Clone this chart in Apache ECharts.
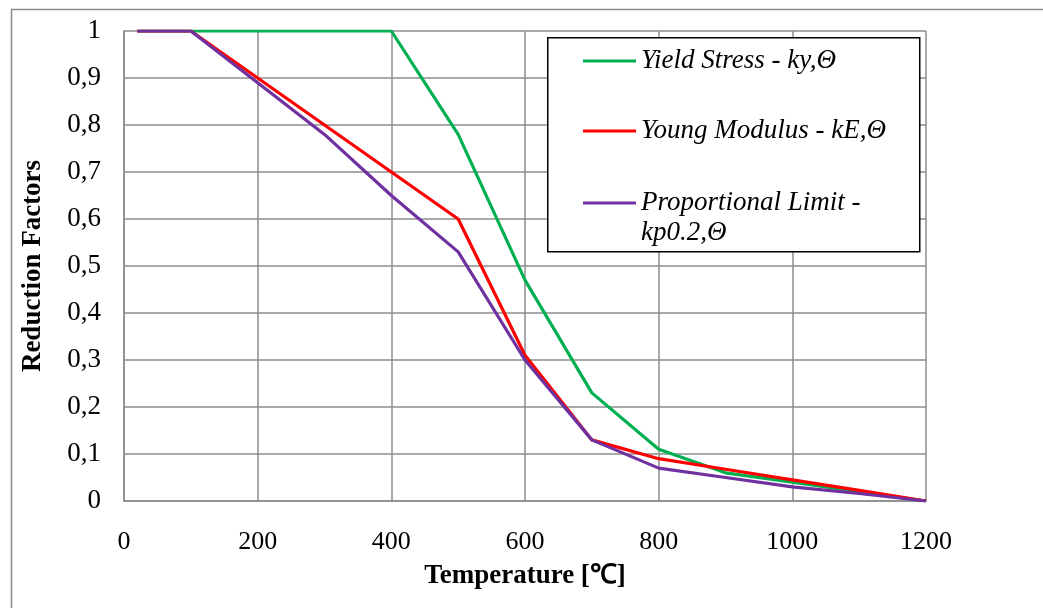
<!DOCTYPE html>
<html>
<head>
<meta charset="utf-8">
<script src="https://cdn.jsdelivr.net/npm/echarts@6/dist/echarts.min.js"></script>
<style>
html,body{margin:0;padding:0;background:#fff;}
#chart{width:1043px;height:608px;}
</style>
</head>
<body>
<div id="chart"></div>
<script>
// Data
const temperatures = [20, 100, 200, 300, 400, 500, 600, 700, 800, 900, 1000, 1100, 1200];
const yieldStress = [1, 1, 1, 1, 1, 0.78, 0.47, 0.23, 0.11, 0.06, 0.04, 0.02, 0];
const youngModulus = [1, 1, 0.9, 0.8, 0.7, 0.6, 0.31, 0.13, 0.09, 0.0675, 0.045, 0.0225, 0];
const proportionalLimit = [1, 1, 0.89, 0.78, 0.65, 0.53, 0.30, 0.13, 0.07, 0.05, 0.03, 0.016, 0];
const seriesNames = ['Yield Stress - ky,Θ', 'Young Modulus - kE,Θ', 'Proportional Limit -\nkp0.2,Θ'];
const seriesColors = ['#00B050', '#FF0000', '#7030A0'];
const xAxisTitle = 'Temperature [℃]';
const yAxisTitle = 'Reduction Factors';

const pairs = (ys) => temperatures.map((t, i) => [t, ys[i]]);
const serif = '"Liberation Serif", "Times New Roman", serif';

const chart = echarts.init(document.getElementById('chart'), null, {renderer: 'canvas'});
const mkSeries = (name, data, color) => ({
  name: name, type: 'line', data: pairs(data), showSymbol: false, symbol: 'none',
  lineStyle: {color: color, width: 3.2}, itemStyle: {color: color}, z: 2
});
const legendText = {fontFamily: serif, fontStyle: 'italic', fontSize: 27, color: '#000', lineHeight: 30};

chart.setOption({
  animation: false,
  backgroundColor: '#fff',
  grid: {left: 124, right: 117, top: 31, bottom: 107, containLabel: false},
  xAxis: {
    type: 'value', min: 0, max: 1200, interval: 200,
    name: xAxisTitle, nameLocation: 'middle', nameGap: 62,
    nameTextStyle: {fontFamily: serif, fontWeight: 'bold', fontSize: 27, color: '#000'},
    axisLine: {show: true, lineStyle: {color: '#8c8c8c', width: 1.5}},
    axisTick: {show: false},
    axisLabel: {fontFamily: serif, fontSize: 26, color: '#000', margin: 28,
      formatter: v => String(v)},
    splitLine: {show: true, lineStyle: {color: '#8c8c8c', width: 1.5}}
  },
  yAxis: {
    type: 'value', min: 0, max: 1, interval: 0.1,
    name: yAxisTitle, nameLocation: 'middle', nameGap: 77, nameRotate: 90,
    nameTextStyle: {fontFamily: serif, fontWeight: 'bold', fontSize: 27, color: '#000'},
    axisLine: {show: true, lineStyle: {color: '#8c8c8c', width: 1.5}},
    axisTick: {show: false},
    axisLabel: {fontFamily: serif, fontSize: 27, color: '#000', margin: 23,
      formatter: v => (Math.round(v * 10) / 10).toString().replace('.', ',')},
    splitLine: {show: true, lineStyle: {color: '#8c8c8c', width: 1.5}}
  },
  legend: [
    {
      data: [seriesNames[0], seriesNames[1]], orient: 'vertical', left: 583, top: 46, padding: 0,
      icon: 'rect', itemWidth: 53, itemHeight: 3, itemGap: 40, textStyle: legendText, selectedMode: false
    },
    {
      data: [seriesNames[2]], orient: 'vertical', left: 583, top: 158, padding: 0,
      icon: 'rect', itemWidth: 53, itemHeight: 3, itemGap: 40, selectedMode: false,
      formatter: name => '\n' + name,
      textStyle: legendText
    }
  ],
  graphic: [
    {type: 'rect', left: 9, top: 7, z: 0, silent: true,
      shape: {x: 0, y: 0, width: 1100, height: 700},
      style: {fill: 'none', stroke: '#8c8c8c', lineWidth: 1.5}},
    {type: 'rect', left: 547, top: 37, z: 3, silent: true,
      shape: {x: 0, y: 0, width: 372, height: 214},
      style: {fill: '#fff', stroke: '#000', lineWidth: 1.5}}
  ],
  series: [
    mkSeries(seriesNames[0], yieldStress, seriesColors[0]),
    mkSeries(seriesNames[1], youngModulus, seriesColors[1]),
    mkSeries(seriesNames[2], proportionalLimit, seriesColors[2])
  ]
});
</script>
</body>
</html>
